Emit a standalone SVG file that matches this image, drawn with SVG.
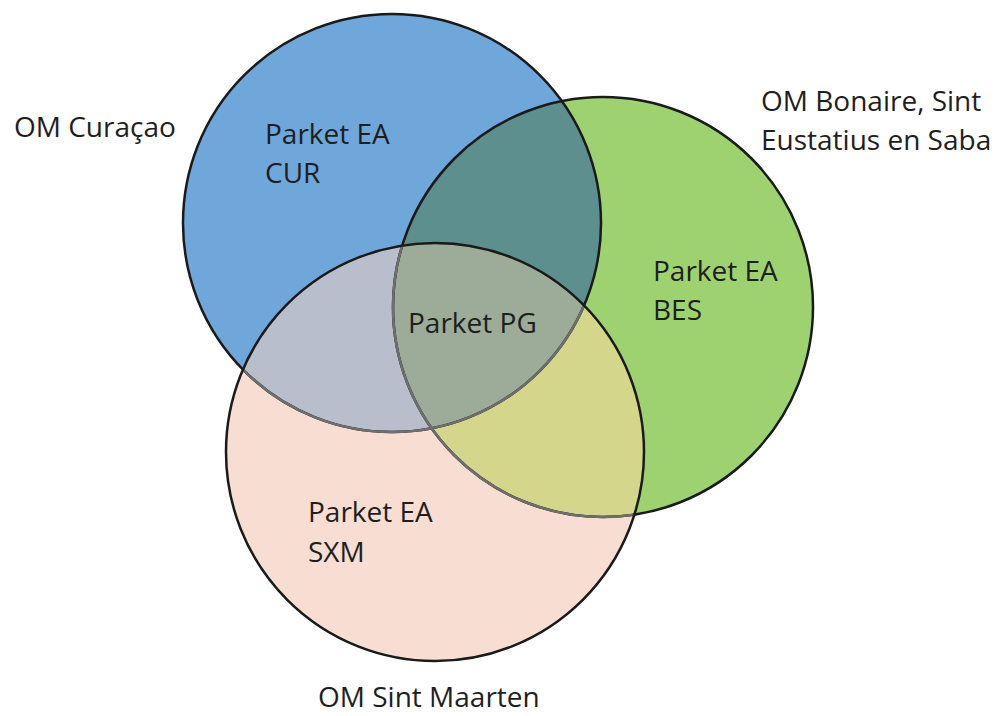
<svg xmlns="http://www.w3.org/2000/svg" width="1000" height="716" viewBox="0 0 1000 716">
<style>
.t{font-family:"Open Sans","Liberation Sans",sans-serif;font-size:28px;fill:#1e1e1e}
.o{fill:none;stroke:#1a1a1a;stroke-width:2.5}
.g{fill:none;stroke:#6e6e6e;stroke-width:2.5}
</style>
<defs>
<clipPath id="cb"><circle cx="392" cy="223" r="209"/></clipPath>
<clipPath id="cg"><circle cx="603" cy="307" r="210"/></clipPath>
<clipPath id="cp"><circle cx="435" cy="452" r="209"/></clipPath>
</defs>
<rect width="1000" height="716" fill="#fff"/>
<g id="curacao">
<circle cx="392" cy="223" r="209" fill="#6fa7db"/>
</g>
<g id="bes">
<circle cx="603" cy="307" r="210" fill="#9ed270"/>
<circle cx="603" cy="307" r="210" fill="#5c8f8e" clip-path="url(#cb)"/>
</g>
<g id="sxm">
<circle cx="435" cy="452" r="209" fill="#f8ded2"/>
<circle cx="435" cy="452" r="209" fill="#b9becd" clip-path="url(#cb)"/>
<circle cx="435" cy="452" r="209" fill="#d4d68c" clip-path="url(#cg)"/>
<g clip-path="url(#cb)"><circle cx="435" cy="452" r="209" fill="#9dac98" clip-path="url(#cg)"/></g>
</g>
<g id="outlines">
<circle class="o" cx="392" cy="223" r="209"/>
<circle class="o" cx="603" cy="307" r="210"/>
<g clip-path="url(#cp)">
<circle class="g" cx="392" cy="223" r="209"/>
<circle class="g" cx="603" cy="307" r="210"/>
</g>
<circle class="o" cx="435" cy="452" r="209"/>
</g>
<g id="labels">
<text class="t" x="14" y="137">OM Curaçao</text>
<text class="t" x="761" y="111">OM Bonaire, Sint</text>
<text class="t" x="761" y="150">Eustatius en Saba</text>
<text class="t" x="318" y="707">OM Sint Maarten</text>
<text class="t" x="265" y="144">Parket EA</text>
<text class="t" x="265" y="183">CUR</text>
<text class="t" x="653" y="281">Parket EA</text>
<text class="t" x="653" y="320">BES</text>
<text class="t" x="408" y="333">Parket PG</text>
<text class="t" x="308" y="522">Parket EA</text>
<text class="t" x="308" y="562">SXM</text>
</g>
</svg>
